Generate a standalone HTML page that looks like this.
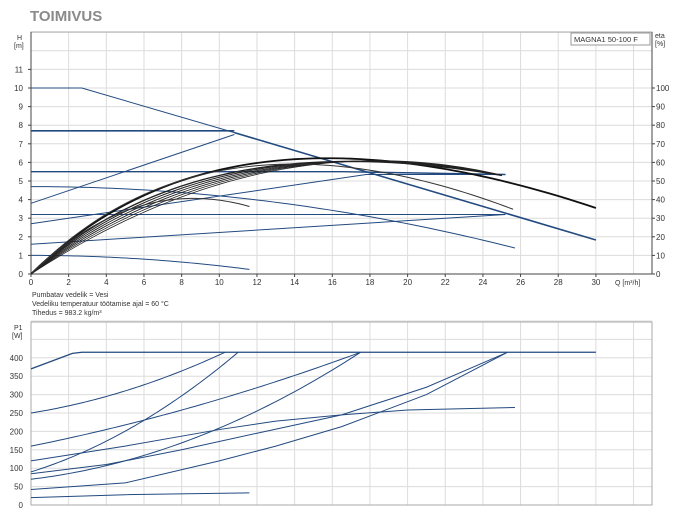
<!DOCTYPE html>
<html><head><meta charset="utf-8"><style>
body{margin:0;background:#fff;width:675px;height:525px;overflow:hidden;font-family:"Liberation Sans",sans-serif}
svg text{font-family:"Liberation Sans",sans-serif;fill:#333}
</style></head><body>
<svg id="s" width="675" height="525" xmlns="http://www.w3.org/2000/svg">
<text x="30" y="21" font-size="15" font-weight="bold" style="fill:#8a8a8a">TOIMIVUS</text>
</svg>
<script>
const S=document.getElementById('s');const NS='http://www.w3.org/2000/svg';
function el(t,a,txt){const e=document.createElementNS(NS,t);for(const k in a)e.setAttribute(k,a[k]);if(txt!==undefined)e.textContent=txt;S.appendChild(e);return e;}
const X=q=>31+18.83*q, YT=h=>274-18.6*h, YB=p=>505-0.368*p;
for(let q=0;q<=32;q+=2){el('line',{x1:X(q),x2:X(q),y1:32,y2:274,stroke:'#dcdcdc','stroke-width':1});el('line',{x1:X(q),x2:X(q),y1:322,y2:505,stroke:'#dcdcdc','stroke-width':1});}
for(let h=1;h<=13;h++)el('line',{x1:31,x2:652,y1:YT(h),y2:YT(h),stroke:'#dcdcdc'});
for(let p=50;p<=500;p+=50)el('line',{x1:31,x2:652,y1:YB(p),y2:YB(p),stroke:'#dcdcdc'});
el('rect',{x:31,y:32,width:621,height:242,fill:'none',stroke:'#aaa'});
el('rect',{x:31,y:322,width:621,height:183,fill:'none',stroke:'#aaa'});
el('line',{x1:31,x2:31,y1:32,y2:274,stroke:'#444'});el('line',{x1:31,x2:652,y1:274,y2:274,stroke:'#444'});
el('line',{x1:652,x2:652,y1:32,y2:274,stroke:'#444'});
for(let h=0;h<=11;h++){el('text',{x:23,y:YT(h)+3,'font-size':8,'text-anchor':'end'},h);el('line',{x1:28,x2:31,y1:YT(h),y2:YT(h),stroke:'#444'});}
for(let e=0;e<=100;e+=10){el('text',{x:656,y:YT(e/10)+3,'font-size':8},e);el('line',{x1:652,x2:655,y1:YT(e/10),y2:YT(e/10),stroke:'#444'});}
for(let q=0;q<=30;q+=2){el('text',{x:X(q),y:285,'font-size':8,'text-anchor':'middle'},q);el('line',{x1:X(q),x2:X(q),y1:274,y2:277,stroke:'#444'});}
el('text',{x:615,y:285,'font-size':7},'Q [m³/h]');
el('text',{x:17,y:40,'font-size':7},'H');el('text',{x:14,y:48,'font-size':7},'[m]');
el('text',{x:655,y:38,'font-size':7},'eta');el('text',{x:655,y:46,'font-size':7},'[%]');
el('rect',{x:571,y:33,width:79,height:12,fill:'#fff',stroke:'#999'});
el('text',{x:574,y:42,'font-size':7.5},'MAGNA1 50-100 F');
el('text',{x:32,y:297,'font-size':7},'Pumbatav vedelik = Vesi');
el('text',{x:32,y:306,'font-size':7},'Vedeliku temperatuur töötamise ajal = 60 °C');
el('text',{x:32,y:315,'font-size':7},'Tihedus = 983.2 kg/m³');
el('text',{x:14,y:330,'font-size':7},'P1');el('text',{x:12,y:338,'font-size':7},'[W]');
for(let p=0;p<=400;p+=50)el('text',{x:23,y:YB(p)+3,'font-size':8,'text-anchor':'end'},p);
const B='#234a80';
function poly(pts,Y,c,w){el('polyline',{points:pts.map(p=>X(p[0])+','+Y(p[1])).join(' '),fill:'none',stroke:c||B,'stroke-width':w||1});}
function fn(f,a,b,Y,c,w){const p=[];for(let i=0;i<=60;i++){const q=a+(b-a)*i/60;p.push([q,f(q)]);}poly(p,Y,c,w);}
poly([[0,10],[2.7,10],[10.8,7.6]],YT);poly([[10.8,7.6],[30,1.83]],YT,B,1.6);
poly([[0,7.7],[10.8,7.7]],YT,B,1.6);
poly([[0,5.5],[16.5,5.5],[25.2,5.35]],YT,B,1.4);
poly([[0,3.2],[25.2,3.2]],YT);
poly([[0,3.8],[10.8,7.5]],YT);
poly([[0,2.7],[17.8,5.35],[25.2,5.35]],YT);
poly([[0,1.6],[25.2,3.2]],YT);
fn(q=>4.7-0.005*q*q,0,25.7,YT);
fn(q=>1-0.0056*q*q,0,11.6,YT);
fn(q=>9.88*(1-Math.exp(-q/10))-0.00649*q*q,0,30,YT,'#111',1.8);
const E=q=>9.17*(1-Math.exp(-q/10))-0.00499*q*q;
const Q=q=>0.662*q-0.01798*q*q;
[[0,1.3],[0.2,1],[0.4,0.9],[0.6,0.9],[0.8,0.8],[1,0.8]].forEach(v=>fn(q=>(1-v[0])*E(q)+v[0]*Q(q),0,25,YT,'#222',v[1]));
fn(q=>10.2*(1-Math.exp(-q/10))-0.00905*q*q,0,25.6,YT,'#333',1);
fn(q=>0.98*q-0.0633*q*q+0.0005*q*q*q,0,11.6,YT,'#333',1);
function quad(p0,pm,p1){return q=>{const [x0,y0]=p0,[x1,y1]=pm,[x2,y2]=p1;return y0*(q-x1)*(q-x2)/((x0-x1)*(x0-x2))+y1*(q-x0)*(q-x2)/((x1-x0)*(x1-x2))+y2*(q-x0)*(q-x1)/((x2-x0)*(x2-x1));};}
poly([[0,370],[2.2,412],[2.7,415],[30,415]],YB,B,1.3);
fn(quad([0,250],[5,310],[10.3,415]),0,10.3,YB);
fn(quad([0,90],[5.5,215],[11,415]),0,11,YB);
fn(quad([0,160],[8,258],[17.5,415]),0,17.5,YB);
fn(quad([0,70],[10,209],[17.5,415]),0,17.5,YB);
poly([[0,120],[5,160],[10,205],[13,228],[16.5,245],[20,258],[25.7,265]],YB);
poly([[0,85],[4,110],[8,150],[12,195],[16.5,245],[21,320],[25.3,415]],YB);
poly([[0,42],[5,60],[10,120],[13,160],[16.5,213],[21,300],[25.3,415]],YB);
poly([[0,20],[5,28],[11.6,33]],YB);
</script>
</body></html>
